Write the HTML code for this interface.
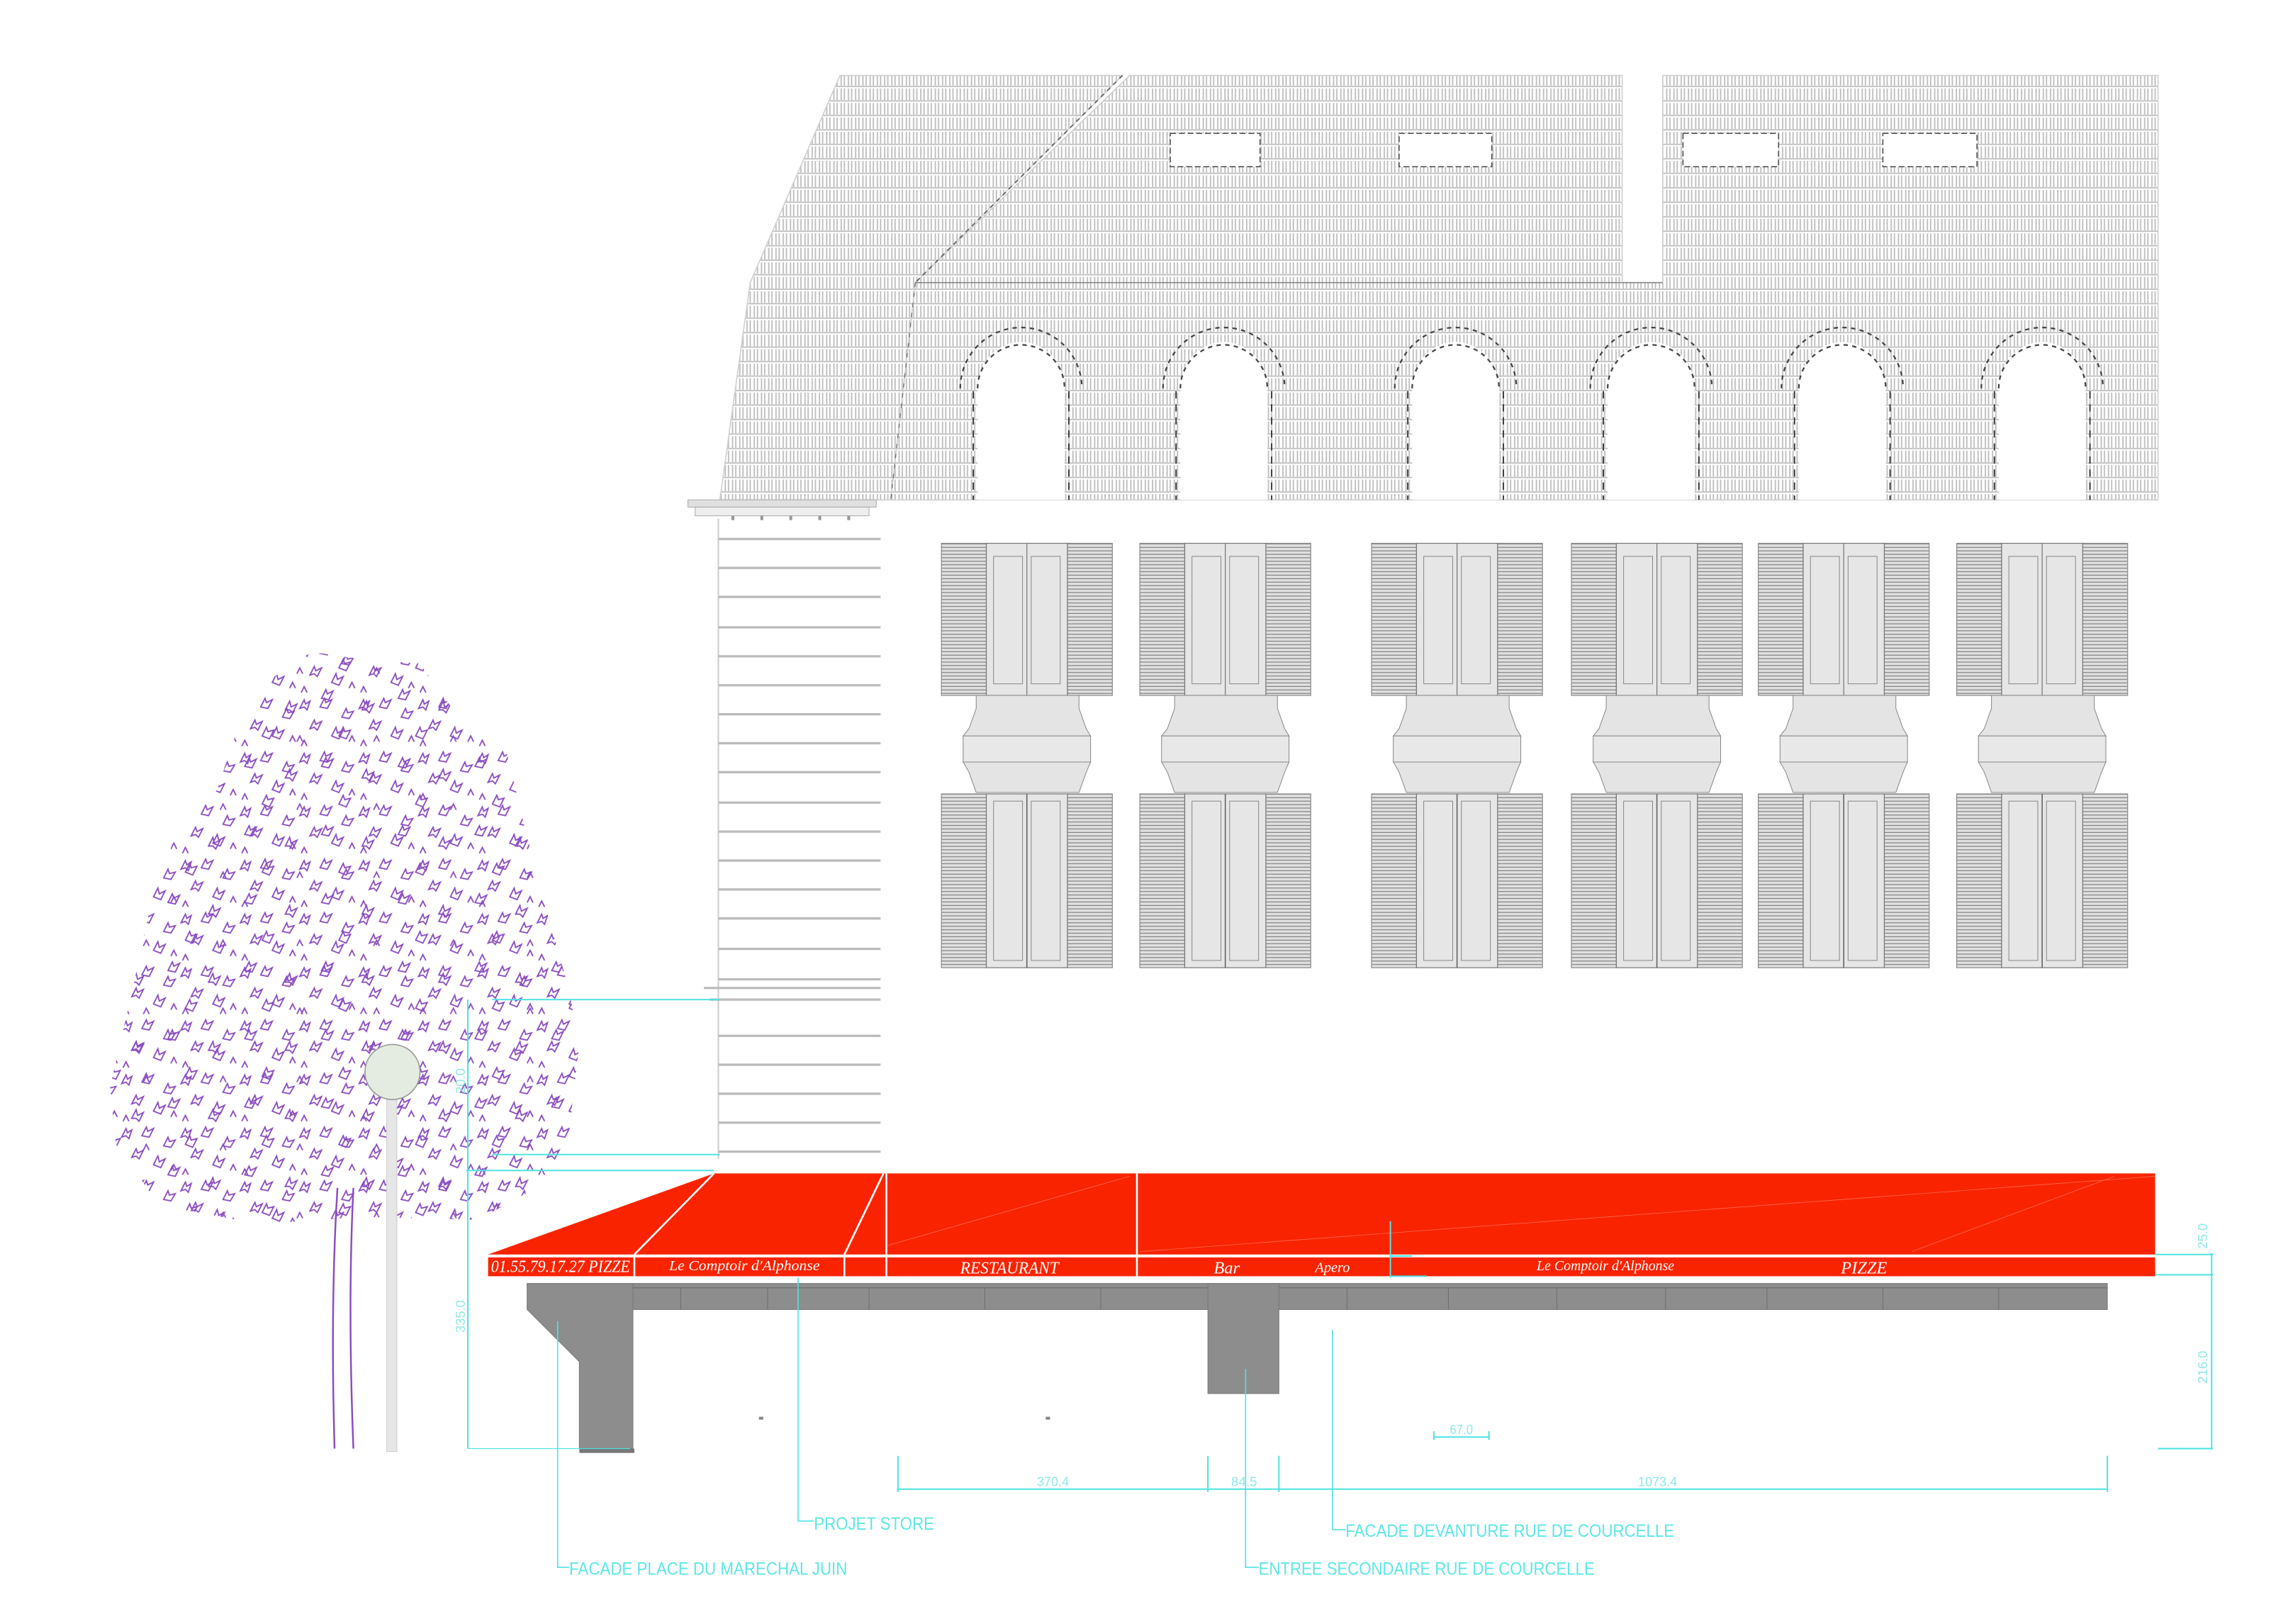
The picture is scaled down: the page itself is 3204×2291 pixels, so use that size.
<!DOCTYPE html>
<html><head><meta charset="utf-8"><style>
html,body{margin:0;padding:0;background:#fff;}
svg{display:block;}
.lbl{font-family:"Liberation Sans",sans-serif;fill:#5ee6e6;font-size:12px;}
.dim{font-family:"Liberation Sans",sans-serif;fill:#8ee8e8;font-size:9px;}
.aw{font-family:"Liberation Serif",serif;fill:#fff;font-style:italic;}
</style></head><body>
<svg width="3204" height="2291" viewBox="0 0 1568 1121" xmlns="http://www.w3.org/2000/svg">
<defs>
 <pattern id="tiles" width="5" height="10" patternUnits="userSpaceOnUse">
  <rect width="5" height="10" fill="#fff"/>
  <path d="M0.8 1V9M3 1V9M0 9.6H5" stroke="#bdbdbd" stroke-width="0.9" fill="none"/>
 </pattern>
 <pattern id="louver" width="4" height="2.4" patternUnits="userSpaceOnUse">
  <rect width="4" height="2.4" fill="#e0e0e0"/>
  <path d="M0 0.4H4" stroke="#7a7a7a" stroke-width="0.55"/>
 </pattern>
 <pattern id="leaves" width="41" height="37" patternUnits="userSpaceOnUse">
  <g fill="none" stroke="#8a4cc0" stroke-width="0.9">
   <path d="M2 8L5 2L6 5L9 3L7 9L5 7Z"/>
   <path d="M16 7L19 1L20 4L24 2L21 8Z"/>
   <path d="M31 14L34 8L35 11L39 10L36 15Z"/>
   <path d="M9 22L12 16L13 19L17 17L14 23L12 21Z"/>
   <path d="M24 27L27 21L28 25L32 23L29 29Z"/>
   <path d="M3 34L5 30L7 34"/>
   <path d="M36 31L38 27L40 31"/>
  </g>
 </pattern>
 <pattern id="leaves2" width="53" height="47" patternUnits="userSpaceOnUse">
  <g fill="none" stroke="#8a4cc0" stroke-width="0.9">
   <path d="M10 12L13 6L14 9L18 7L15 13Z"/>
   <path d="M38 20L41 14L42 18L46 16L43 22L41 20Z"/>
   <path d="M22 38L25 32L26 35L30 34L27 40Z"/>
   <path d="M46 42L48 38L50 42"/>
  </g>
 </pattern>
 <clipPath id="canopy">
  <path d="M215 450L250 455L290 458L320 500L350 520L362 570L375 620L392 680L400 720L392 790L370 820L330 842L250 840L180 845L110 832L80 790L76 750L90 690L105 620L120 580L150 545L165 500L185 470Z"/>
 </clipPath>
 <g id="win">
  <rect x="0" y="0" width="31" height="105" fill="url(#louver)" stroke="#8a8a8a" stroke-width="0.6"/>
  <rect x="87" y="0" width="31" height="105" fill="url(#louver)" stroke="#8a8a8a" stroke-width="0.6"/>
  <rect x="31" y="0" width="56" height="105" fill="#e6e6e6" stroke="#777" stroke-width="0.6"/>
  <line x1="59" y1="0" x2="59" y2="105" stroke="#777" stroke-width="0.6"/>
  <rect x="36" y="9" width="20" height="88" fill="none" stroke="#888" stroke-width="0.5"/>
  <rect x="62" y="9" width="20" height="88" fill="none" stroke="#888" stroke-width="0.5"/>
  <path d="M24 105H95V114L100 128L103 133H15L19 128L24 114Z" fill="#e4e4e4" stroke="#888" stroke-width="0.5"/>
  <rect x="15" y="133" width="88" height="18" fill="#e8e8e8" stroke="#888" stroke-width="0.5"/>
  <path d="M15 151H103L100 158L95 172H24L19 158Z" fill="#e4e4e4" stroke="#888" stroke-width="0.5"/>
  <rect x="0" y="173" width="31" height="120" fill="url(#louver)" stroke="#8a8a8a" stroke-width="0.6"/>
  <rect x="87" y="173" width="31" height="120" fill="url(#louver)" stroke="#8a8a8a" stroke-width="0.6"/>
  <rect x="31" y="173" width="56" height="120" fill="#e6e6e6" stroke="#777" stroke-width="0.6"/>
  <line x1="59" y1="173" x2="59" y2="293" stroke="#666" stroke-width="0.8"/>
  <rect x="36" y="178" width="20" height="110" fill="none" stroke="#888" stroke-width="0.5"/>
  <rect x="62" y="178" width="20" height="110" fill="none" stroke="#888" stroke-width="0.5"/>
 </g>
 <g id="arch">
  <path d="M-30 345V268A30 32 0 0 1 30 268V345Z" fill="#fff"/>
  <path d="M-42 268A42 42 0 0 1 42 268" fill="none" stroke="#444" stroke-width="1.1" stroke-dasharray="3 3"/>
  <path d="M-30 268A30 30 0 0 1 30 268" fill="none" stroke="#444" stroke-width="1.1" stroke-dasharray="3 3"/>
  <path d="M-33 270V345M33 270V345" stroke="#333" stroke-width="0.9" stroke-dasharray="5 4"/>
 </g>
</defs>

<!-- roof / tiled facade -->
<path d="M580 52L775 52L632 195L615 345L497 345L518 195Z" fill="url(#tiles)" stroke="#d0d0d0" stroke-width="0.8"/>
<path d="M780 52L1120 52L1120 195L1148 195L1148 52L1490 52L1490 345L615 345L632 195Z" fill="url(#tiles)" stroke="#d0d0d0" stroke-width="0.8"/>
<line x1="775" y1="52" x2="632" y2="195" stroke="#666" stroke-width="0.9" stroke-dasharray="3 3"/>
<line x1="632" y1="195" x2="1148" y2="195" stroke="#888" stroke-width="0.8"/>
<line x1="632" y1="195" x2="615" y2="345" stroke="#666" stroke-width="0.6" stroke-dasharray="3 4"/>
<g fill="#fff" stroke="#555" stroke-width="0.8" stroke-dasharray="4 2">
 <rect x="808" y="92" width="62" height="23"/><rect x="966" y="92" width="64" height="23"/>
 <rect x="1162" y="92" width="66" height="23"/><rect x="1300" y="92" width="65" height="23"/>
</g>
<use href="#arch" x="705"/><use href="#arch" x="845"/><use href="#arch" x="1005"/>
<use href="#arch" x="1140"/><use href="#arch" x="1272"/><use href="#arch" x="1410"/>

<!-- cornice & pilaster -->
<rect x="475" y="345" width="130" height="5" fill="#e0e0e0" stroke="#aaa" stroke-width="0.5"/>
<rect x="480" y="350" width="120" height="6" fill="#eee" stroke="#aaa" stroke-width="0.5"/>
<g fill="#999"><rect x="505" y="356" width="2" height="3"/><rect x="525" y="356" width="2" height="3"/><rect x="545" y="356" width="2" height="3"/><rect x="565" y="356" width="2" height="3"/><rect x="585" y="356" width="2" height="3"/></g>
<g stroke="#bbb" stroke-width="1.6">
 <line x1="496" y1="358" x2="496" y2="800" stroke="#ccc" stroke-width="1"/>
 <line x1="496" y1="372" x2="608" y2="372"/><line x1="496" y1="392" x2="608" y2="392"/><line x1="496" y1="412" x2="608" y2="412"/>
 <line x1="496" y1="433" x2="608" y2="433"/><line x1="496" y1="453" x2="608" y2="453"/><line x1="496" y1="473" x2="608" y2="473"/>
 <line x1="496" y1="493" x2="608" y2="493"/><line x1="496" y1="513" x2="608" y2="513"/><line x1="496" y1="533" x2="608" y2="533"/>
 <line x1="496" y1="554" x2="608" y2="554"/><line x1="496" y1="574" x2="608" y2="574"/><line x1="496" y1="594" x2="608" y2="594"/>
 <line x1="496" y1="614" x2="608" y2="614"/><line x1="496" y1="634" x2="608" y2="634"/><line x1="496" y1="655" x2="608" y2="655"/>
 <line x1="496" y1="676" x2="608" y2="676"/><line x1="486" y1="682" x2="608" y2="682"/><line x1="490" y1="690" x2="608" y2="690"/>
 <line x1="496" y1="715" x2="608" y2="715"/><line x1="496" y1="735" x2="608" y2="735"/><line x1="496" y1="755" x2="608" y2="755"/>
 <line x1="496" y1="775" x2="608" y2="775"/><line x1="496" y1="795" x2="608" y2="795"/>
</g>

<!-- windows -->
<use href="#win" x="650" y="375"/><use href="#win" x="787" y="375"/><use href="#win" x="947" y="375"/>
<use href="#win" x="1085" y="375"/><use href="#win" x="1214" y="375"/><use href="#win" x="1351" y="375"/>

<!-- tree -->
<rect x="70" y="440" width="340" height="410" fill="url(#leaves)" clip-path="url(#canopy)"/>
<rect x="70" y="440" width="340" height="410" fill="url(#leaves2)" clip-path="url(#canopy)"/>
<path d="M233 820Q228 900 231 1000M244 820Q240 900 244 1000" stroke="#8a4cc0" stroke-width="1.2" fill="none"/>
<!-- lamp -->
<rect x="267" y="758" width="7" height="244" fill="#e6e6e6" stroke="#ccc" stroke-width="0.5"/>
<circle cx="271" cy="740" r="19" fill="#e4ebe0" stroke="#999" stroke-width="0.8"/>

<!-- awning -->
<path d="M493 810L1488 810L1488 866L337 866Z" fill="#f92300"/>
<rect x="337" y="868" width="1151" height="13" fill="#f92300"/>
<g stroke="#fff" stroke-width="1.3" fill="none">
 <line x1="493" y1="810" x2="438" y2="866"/><line x1="610" y1="810" x2="583" y2="866"/>
 <line x1="612" y1="810" x2="612" y2="881"/><line x1="785" y1="810" x2="785" y2="881"/>
 <line x1="337" y1="867" x2="1488" y2="867"/>
 <line x1="438" y1="867" x2="438" y2="881"/><line x1="583" y1="867" x2="583" y2="881"/>
</g>
<g stroke="#ff8a70" stroke-width="0.4" fill="none" opacity="0.7">
 <line x1="787" y1="864" x2="1488" y2="812"/><line x1="612" y1="860" x2="780" y2="812"/>
 <line x1="1320" y1="864" x2="1460" y2="812"/>
</g>
<text class="aw" x="339" y="878" font-size="12" textLength="96" lengthAdjust="spacingAndGlyphs">01.55.79.17.27 PIZZE</text>
<text class="aw" x="462" y="877" font-size="10" textLength="104" lengthAdjust="spacingAndGlyphs">Le Comptoir d'Alphonse</text>
<text class="aw" x="663" y="879" font-size="12" textLength="68" lengthAdjust="spacingAndGlyphs">RESTAURANT</text>
<text class="aw" x="838" y="879" font-size="12" textLength="18" lengthAdjust="spacingAndGlyphs">Bar</text>
<text class="aw" x="908" y="878" font-size="10" textLength="24" lengthAdjust="spacingAndGlyphs">Apero</text>
<text class="aw" x="1061" y="877" font-size="10" textLength="95" lengthAdjust="spacingAndGlyphs">Le Comptoir d'Alphonse</text>
<text class="aw" x="1271" y="879" font-size="12" textLength="32" lengthAdjust="spacingAndGlyphs">PIZZE</text>

<!-- beam & posts -->
<rect x="364" y="886" width="1091" height="18" fill="#8d8d8d" stroke="#777" stroke-width="0.5"/>
<line x1="364" y1="889" x2="1455" y2="889" stroke="#666" stroke-width="0.5"/>
<path d="M364 886H437V1000H400V940L364 904Z" fill="#8d8d8d" stroke="#777" stroke-width="0.5"/>
<rect x="400" y="1000" width="38" height="3" fill="#777"/>
<rect x="834" y="886" width="49" height="76" fill="#8d8d8d" stroke="#777" stroke-width="0.5"/>
<g stroke="#666" stroke-width="0.4">
 <line x1="470" y1="889" x2="470" y2="904"/><line x1="530" y1="889" x2="530" y2="904"/><line x1="600" y1="889" x2="600" y2="904"/>
 <line x1="680" y1="889" x2="680" y2="904"/><line x1="760" y1="889" x2="760" y2="904"/><line x1="930" y1="889" x2="930" y2="904"/>
 <line x1="1000" y1="889" x2="1000" y2="904"/><line x1="1075" y1="889" x2="1075" y2="904"/><line x1="1150" y1="889" x2="1150" y2="904"/>
 <line x1="1220" y1="889" x2="1220" y2="904"/><line x1="1300" y1="889" x2="1300" y2="904"/><line x1="1380" y1="889" x2="1380" y2="904"/>
</g>
<rect x="524" y="978" width="3" height="2" fill="#888"/><rect x="722" y="978" width="3" height="2" fill="#888"/>

<!-- cyan dimensions / leaders -->
<g stroke="#4fe3e3" stroke-width="1" fill="none">
 <line x1="340" y1="690" x2="497" y2="690"/><line x1="340" y1="797" x2="497" y2="797"/><line x1="322" y1="808" x2="493" y2="808"/>
 <line x1="323" y1="690" x2="323" y2="1000"/><line x1="323" y1="1000" x2="435" y2="1000" stroke-width="0.5"/>
 <line x1="620" y1="1028" x2="1455" y2="1028"/>
 <line x1="620" y1="1005" x2="620" y2="1030"/><line x1="834" y1="1005" x2="834" y2="1030"/><line x1="883" y1="1005" x2="883" y2="1030"/><line x1="1455" y1="1005" x2="1455" y2="1030"/>
 <line x1="990" y1="992" x2="1028" y2="992"/><line x1="990" y1="988" x2="990" y2="994"/><line x1="1028" y1="988" x2="1028" y2="994"/>
 <line x1="1527" y1="865" x2="1527" y2="1000"/><line x1="1488" y1="866" x2="1528" y2="866"/><line x1="1488" y1="880" x2="1528" y2="880"/><line x1="1490" y1="1000" x2="1528" y2="1000"/>
 <line x1="960" y1="843" x2="960" y2="882"/><line x1="960" y1="867" x2="975" y2="867"/><line x1="960" y1="881" x2="985" y2="881"/>
 <polyline points="385,912 385,1082 393,1082" stroke-width="0.8"/>
 <polyline points="551,882 551,1050 562,1050" stroke-width="0.8"/>
 <polyline points="860,945 860,1082 869,1082" stroke-width="0.8"/>
 <polyline points="920,918 920,1056 929,1056" stroke-width="0.8"/>
</g>
<text class="lbl" x="393" y="1087" textLength="192" lengthAdjust="spacingAndGlyphs">FACADE PLACE DU MARECHAL JUIN</text>
<text class="lbl" x="562" y="1056" textLength="83" lengthAdjust="spacingAndGlyphs">PROJET STORE</text>
<text class="lbl" x="869" y="1087" textLength="232" lengthAdjust="spacingAndGlyphs">ENTREE SECONDAIRE RUE DE COURCELLE</text>
<text class="lbl" x="929" y="1061" textLength="227" lengthAdjust="spacingAndGlyphs">FACADE DEVANTURE RUE DE COURCELLE</text>
<text class="dim" x="716" y="1026" textLength="22" lengthAdjust="spacingAndGlyphs">370.4</text>
<text class="dim" x="850" y="1026" textLength="18" lengthAdjust="spacingAndGlyphs">84.5</text>
<text class="dim" x="1131" y="1026" textLength="27" lengthAdjust="spacingAndGlyphs">1073.4</text>
<text class="dim" x="1001" y="990" textLength="16" lengthAdjust="spacingAndGlyphs">67.0</text>
<text class="dim" transform="translate(321,920) rotate(-90)">335.0</text>
<text class="dim" transform="translate(321,755) rotate(-90)">20.0</text>
<text class="dim" transform="translate(1524,862) rotate(-90)">25.0</text>
<text class="dim" transform="translate(1524,955) rotate(-90)">216.0</text>
</svg>
</body></html>
